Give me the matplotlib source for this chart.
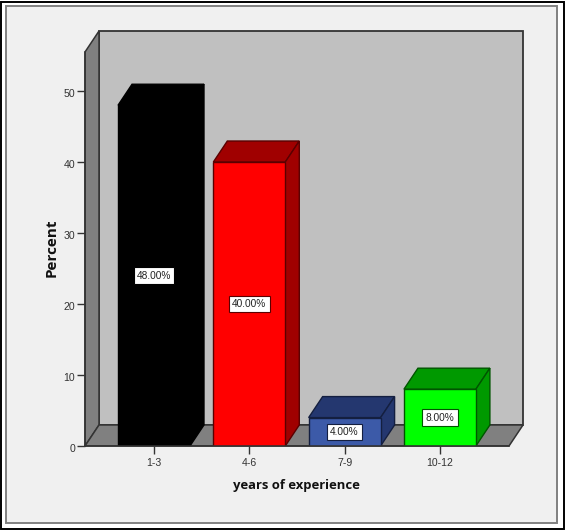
import matplotlib
matplotlib.use("Agg")
import matplotlib.pyplot as plt
from matplotlib.patches import Polygon, Rectangle
from matplotlib.transforms import ScaledTranslation

plt.rcParams['font.family'] = ['Liberation Sans', 'DejaVu Sans']
LABEL_FONT = ['Open Sans', 'Liberation Sans']

WIDTH, HEIGHT = 565, 530

categories = ["1-3", "4-6", "7-9", "10-12"]
percents = [48, 40, 4, 8]
bar_labels = ["48.00%", "40.00%", "4.00%", "8.00%"]
y_ticks = [0, 10, 20, 30, 40, 50]

front_colors = ["#000000", "#ff0000", "#3c5aa8", "#00ff00"]
dark_colors = ["#000000", "#a00000", "#24376f", "#009900"]
edge_colors = ["#000000", "#5a0000", "#141f40", "#005500"]

BAR_WIDTH = 0.755
DEPTH_X = 0.147
DEPTH_Y = 2.96
X_MIN, X_MAX = -0.724, 3.725
Y_MAX = 55.5
EDGE = "#333333"


def px_rect(x0, y0, x1, y1):
    # pixel box (from top left) to figure fractions
    return [x0 / WIDTH, 1 - y1 / HEIGHT, (x1 - x0) / WIDTH, (y1 - y0) / HEIGHT]


def draw_frame(figure):
    # zorder below the axes, figure patches otherwise land on top
    figure.add_artist(Rectangle((0.5 / WIDTH, 1 - 529 / HEIGHT), 563.5 / WIDTH, 527.5 / HEIGHT,
                                transform=figure.transFigure, facecolor="white", edgecolor="black",
                                linewidth=1.4, zorder=-2))
    figure.add_artist(Rectangle((6 / WIDTH, 1 - 522.5 / HEIGHT), 551 / WIDTH, 516.5 / HEIGHT,
                                transform=figure.transFigure, facecolor="#f0f0f0",
                                edgecolor="#808080", linewidth=1.4, zorder=-1))


def draw_walls(ax):
    back_wall = [(X_MIN + DEPTH_X, DEPTH_Y), (X_MAX + DEPTH_X, DEPTH_Y),
                 (X_MAX + DEPTH_X, Y_MAX + DEPTH_Y), (X_MIN + DEPTH_X, Y_MAX + DEPTH_Y)]
    left_wall = [(X_MIN, 0), (X_MIN + DEPTH_X, DEPTH_Y),
                 (X_MIN + DEPTH_X, Y_MAX + DEPTH_Y), (X_MIN, Y_MAX)]
    floor = [(X_MIN, 0), (X_MAX, 0), (X_MAX + DEPTH_X, DEPTH_Y), (X_MIN + DEPTH_X, DEPTH_Y)]
    ax.add_patch(Polygon(back_wall, facecolor="#c0c0c0", edgecolor=EDGE, linewidth=1.3, clip_on=False))
    ax.add_patch(Polygon(left_wall, facecolor="#808080", edgecolor=EDGE, linewidth=1.1, clip_on=False))
    ax.add_patch(Polygon(floor, facecolor="#808080", edgecolor=EDGE, linewidth=1.1, clip_on=False))


def draw_bars(ax):
    for i, value in enumerate(percents):
        left = i - BAR_WIDTH / 2
        right = i + BAR_WIDTH / 2
        top = [(left, value), (right, value), (right + DEPTH_X, value + DEPTH_Y), (left + DEPTH_X, value + DEPTH_Y)]
        side = [(right, 0), (right + DEPTH_X, DEPTH_Y), (right + DEPTH_X, value + DEPTH_Y), (right, value)]
        ax.add_patch(Polygon(top, facecolor=dark_colors[i], edgecolor=edge_colors[i], linewidth=1, zorder=3))
        ax.add_patch(Polygon(side, facecolor=dark_colors[i], edgecolor=edge_colors[i], linewidth=1, zorder=3))
        ax.bar(i, value, width=BAR_WIDTH, color=front_colors[i], edgecolor=edge_colors[i], linewidth=1, zorder=4)
        ax.text(i, value / 2, bar_labels[i], ha="center", va="center", fontsize=7.3, color="#222222", zorder=5,
                bbox=dict(boxstyle="square,pad=0.32", facecolor="white", edgecolor=edge_colors[i], linewidth=0.8))


def main():
    figure = plt.figure(figsize=(WIDTH / 100, HEIGHT / 100), dpi=100, facecolor="white")
    draw_frame(figure)

    ax = figure.add_axes(px_rect(85, 52, 509, 446))
    ax.patch.set_visible(False)

    draw_walls(ax)
    draw_bars(ax)

    ax.set_xlim(X_MIN, X_MAX)
    ax.set_ylim(0, Y_MAX)

    for side in ["top", "right"]:
        ax.spines[side].set_visible(False)
    for side in ["left", "bottom"]:
        ax.spines[side].set_color(EDGE)
        ax.spines[side].set_linewidth(1.1)
        ax.spines[side].set_zorder(6)

    ax.set_xticks(range(len(categories)))
    ax.set_xticklabels(categories)
    ax.set_yticks(y_ticks)
    ax.tick_params(axis="both", labelsize=7.6, length=6, width=1, color=EDGE, labelcolor="#333333", pad=1)
    ax.tick_params(axis="x", pad=2.5)

    # tick labels sit a touch lower than the ticks
    shift = ScaledTranslation(0, -1.5 / 100, figure.dpi_scale_trans)
    for label in ax.get_yticklabels():
        label.set_transform(label.get_transform() + shift)

    ax.set_xlabel("years of experience", fontsize=9.4, fontweight="bold", color="#111111", family=LABEL_FONT)
    ax.xaxis.set_label_coords((296 - 85) / 424, -(486 - 446) / 394, transform=ax.transAxes)
    ax.xaxis.label.set_va("center")
    ax.set_ylabel("Percent", fontsize=11, fontweight="bold", color="#111111", family=LABEL_FONT)
    ax.yaxis.set_label_coords((52 - 85) / 424, (446 - 248) / 394, transform=ax.transAxes)
    ax.yaxis.label.set_va("center")

    figure.savefig("out.png", dpi=100, facecolor=figure.get_facecolor())
    plt.close("all")


if __name__ == '__main__':
    main()
